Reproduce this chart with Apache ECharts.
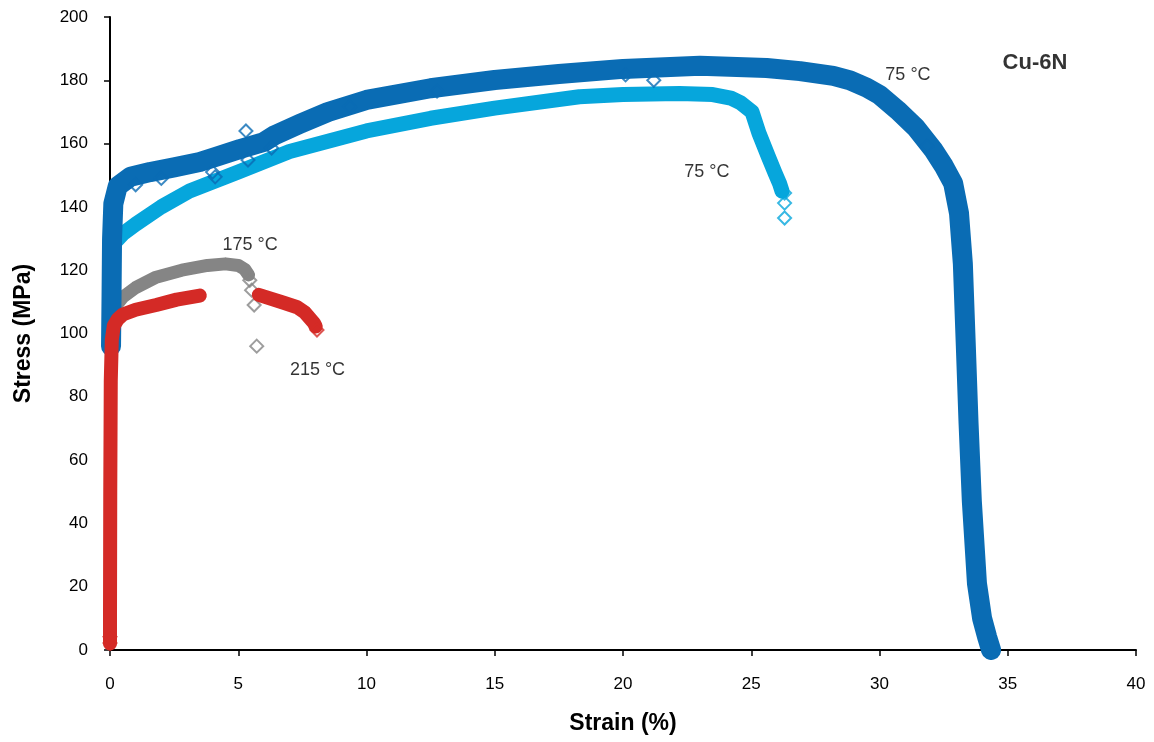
<!DOCTYPE html>
<html>
<head>
<meta charset="utf-8">
<script src="https://cdn.jsdelivr.net/npm/echarts@6/dist/echarts.min.js"></script>
<style>html,body{margin:0;padding:0;background:#fff;}#c{width:1154px;height:742px;}</style>
</head>
<body>
<div id="c"></div>
<script>
// Axis ticks
const xTicks = [0, 5, 10, 15, 20, 25, 30, 35, 40];
const yTicks = [0, 20, 40, 60, 80, 100, 120, 140, 160, 180, 200];

// 75 °C (long test, dark blue) : [strain %, stress MPa]
const blue75a = [
  [0.04, 96], [0.06, 112], [0.08, 130], [0.13, 141], [0.3, 146.5],
  [0.8, 149.5], [1.56, 151], [2.5, 152.5], [3.5, 154.2], [4.2, 156], [5.07, 158.3],
  [6.0, 160.5], [6.43, 162.7], [7.4, 166.2], [8.5, 170], [10, 173.8], [12.5, 177.5],
  [15, 180.1], [17.5, 182], [20, 183.6], [23, 184.6], [25.6, 183.9], [26.9, 182.9],
  [28.2, 181.4], [28.85, 180], [29.5, 177.7], [30.0, 175.4], [30.7, 170.6], [31.4, 165.2],
  [32.1, 158], [32.5, 153], [32.87, 147.5], [33.1, 138], [33.25, 122], [33.37, 95],
  [33.47, 72], [33.6, 47], [33.8, 21], [34.0, 10], [34.2, 4], [34.35, 0]
];
// stray markers of the dark blue test
const blue75aStray = [
  [-0.12, 74], [-0.1, 84], [1.0, 147], [2.0, 149], [4.0, 151], [4.1, 149.5], [5.3, 164],
  [5.38, 154.8], [6.3, 158.6], [9.35, 171.6], [12.75, 176.6], [20.1, 181.7], [21.2, 180],
  [31.85, 159.2]
];

// 75 °C (light blue)
const blue75b = [
  [0.15, 128.5], [0.5, 131.5], [1, 134.5], [2, 140], [3.1, 145], [5, 151], [7, 157.5],
  [10, 164], [12.5, 168], [15, 171.2], [18.3, 174.8], [20, 175.5], [22.2, 175.8],
  [23.5, 175.5], [24.2, 174.4], [24.6, 172.8], [25.03, 170], [25.3, 163.3],
  [25.67, 155.8], [25.93, 150.7], [26.1, 147.5], [26.2, 145]
];
const blue75bStray = [[26.3, 144.4], [26.3, 141.2], [26.3, 136.5]];

// 175 °C (grey)
const grey175 = [
  [0.2, 108.5], [0.5, 111.5], [1, 114.5], [1.8, 117.8], [2.8, 120], [3.8, 121.5],
  [4.5, 122], [5.0, 121.5], [5.25, 120.3], [5.4, 118.5]
];
const grey175Stray = [[5.45, 116.8], [5.52, 113.7], [5.62, 109], [5.72, 96]];

// 215 °C (red) – two segments with a gap
const red215 = [
  [0.0, 2], [0.0, 10], [0.01, 50], [0.03, 85], [0.07, 98], [0.15, 102.5], [0.3, 104.5],
  [0.5, 106], [1, 107.5], [1.8, 109], [2.6, 110.7], [3.5, 112],
  null,
  [5.8, 112.2], [6.74, 109.8], [7.3, 108.3], [7.6, 106.6], [7.95, 103.3], [8.02, 102.2]
];
const red215Stray = [[0.0, 2.2], [0.0, 4.2], [8.07, 101.1]];

// text annotations: [strain, stress, text]
const notes = [
  [31.11, 181.7, '75 °C'],
  [23.27, 151.0, '75 °C'],
  [5.46, 127.8, '175 °C'],
  [8.09, 88.6, '215 °C']
];
const titleNote = [[36.06, 185.5, 'Cu-6N']];

const C_DB = '#0a6cb4', C_LB = '#06a6dc', C_GR = '#858585', C_RD = '#d42a26';
const FONT = '"Liberation Sans", Arial, sans-serif';

function band(data, color, width, z) {
  return {
    type: 'line', data: data, showSymbol: false, symbol: 'none', connectNulls: false,
    lineStyle: { color: color, width: width, cap: 'round', join: 'round' },
    z: z, silent: true, animation: false
  };
}
function stray(data, color, z) {
  return {
    type: 'scatter', data: data, symbol: 'diamond', symbolSize: 13,
    itemStyle: { color: 'rgba(255,255,255,0)', borderColor: color, borderWidth: 2 },
    z: z, silent: true, animation: false
  };
}
function textSeries(data, size, weight) {
  return {
    type: 'scatter', data: data.map(d => ({ value: [d[0], d[1]], name: d[2] })),
    symbolSize: 0, silent: true, animation: false, z: 10,
    label: { show: true, position: 'inside', formatter: p => p.name, color: '#000',
      fontSize: size, fontWeight: weight, fontFamily: FONT }
  };
}

const chart = echarts.init(document.getElementById('c'), null, { renderer: 'canvas' });
chart.setOption({
  animation: false,
  backgroundColor: '#fff',
  grid: { left: 110, right: 18, top: 17, bottom: 92, containLabel: false },
  xAxis: {
    type: 'value', min: xTicks[0], max: xTicks[xTicks.length - 1], interval: 5,
    name: 'Strain (%)', nameLocation: 'middle', nameGap: 62,
    nameTextStyle: { fontSize: 23, fontWeight: 'bold', color: '#000', fontFamily: FONT },
    axisLine: { show: true, onZero: false, lineStyle: { color: '#000', width: 2 } },
    axisTick: { show: true, inside: false, length: 6, lineStyle: { color: '#000', width: 1.5 } },
    axisLabel: { fontSize: 17, color: '#000', margin: 26, fontFamily: FONT },
    splitLine: { show: false }
  },
  yAxis: {
    type: 'value', min: yTicks[0], max: yTicks[yTicks.length - 1], interval: 20,
    name: 'Stress (MPa)', nameLocation: 'middle', nameGap: 75,
    nameTextStyle: { fontSize: 23, fontWeight: 'bold', color: '#000', fontFamily: FONT },
    axisLine: { show: true, onZero: false, lineStyle: { color: '#000', width: 2 } },
    axisTick: { show: true, inside: false, length: 6, lineStyle: { color: '#000', width: 1.5 } },
    axisLabel: { fontSize: 17, color: '#000', margin: 22, fontFamily: FONT },
    splitLine: { show: false }
  },
  series: [
    band(blue75b, C_LB, 15, 2),
    stray(blue75bStray, C_LB, 2),
    band(grey175, C_GR, 13, 3),
    stray(grey175Stray, C_GR, 3),
    band(blue75a, C_DB, 20, 4),
    stray(blue75aStray, C_DB, 4),
    band(red215, C_RD, 14, 5),
    stray(red215Stray, C_RD, 5),
    textSeries(notes, 18, 'normal'),
    textSeries(titleNote, 22, 'bold')
  ]
});
</script>
</body>
</html>
